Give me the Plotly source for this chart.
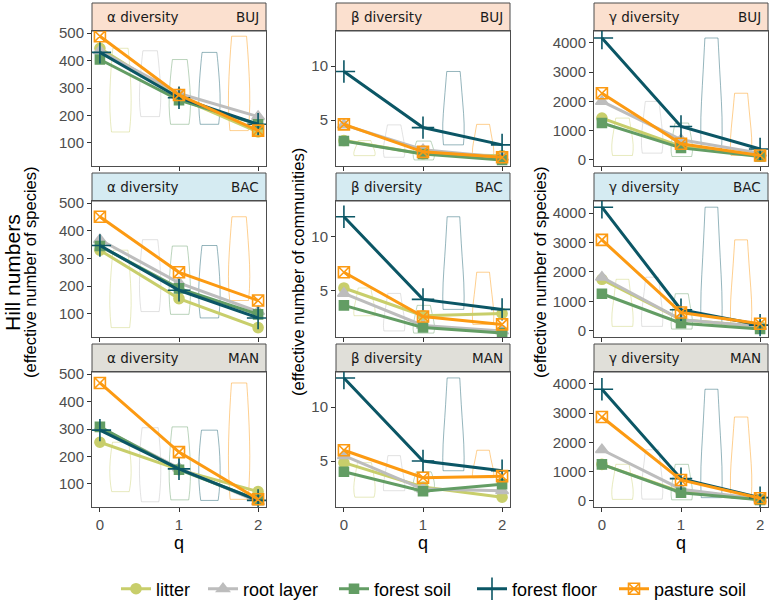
import plotly.graph_objects as go

# ---------------- data ----------------
q = [0, 1, 2]
habitats = ["litter", "root layer", "forest soil", "forest floor", "pasture soil"]
sites = ["BUJ", "BAC", "MAN"]
metrics = ["α diversity", "β diversity", "γ diversity"]

# rows: litter, root layer, forest soil, forest floor, pasture soil ; values at q = 0, 1, 2
alpha_BUJ = [[445, 265, 140], [436, 280, 196], [404, 256, 168], [430, 265, 168], [489, 275, 145]]
alpha_BAC = [[330, 155, 50], [368, 212, 108], [345, 192, 98], [347, 185, 85], [451, 250, 148]]
alpha_MAN = [[252, 152, 72], [305, 158, 35], [308, 152, 42], [296, 155, 40], [468, 216, 44]]

beta_BUJ = [[3.1, 1.85, 1.7], [4.55, 2.25, 1.55], [3.05, 1.85, 1.3], [9.5, 4.3, 2.7], [4.6, 2.05, 1.55]]
beta_BAC = [[5.25, 2.7, 2.9], [4.75, 1.8, 1.3], [3.65, 1.62, 1.1], [11.8, 4.2, 3.28], [6.7, 2.63, 1.9]]
beta_MAN = [[4.85, 2.6, 1.65], [5.5, 2.4, 2.25], [4.0, 2.2, 2.85], [12.7, 5.0, 4.1], [6.0, 3.45, 3.6]]

gamma_BUJ = [[1430, 460, 150], [2000, 690, 230], [1260, 410, 115], [4170, 1140, 370], [2280, 550, 150]]
gamma_BAC = [[1750, 380, 150], [1820, 380, 150], [1260, 260, 60], [4200, 715, 195], [3090, 620, 240]]
gamma_MAN = [[1250, 310, 50], [1750, 400, 60], [1250, 280, 35], [3820, 760, 110], [2870, 715, 90]]

violin_pos = [0.26, 0.635, 1.01, 1.385, 1.76]

alpha_ticks = [100, 200, 300, 400, 500]
beta_ticks = [5, 10]
gamma_ticks = [0, 1000, 2000, 3000, 4000]

# ---------------- styling ----------------
colors = ["#C8CE6B", "#BDBDBD", "#639D64", "#0B5665", "#FC9A12"]
vcolors = ["rgba(200,206,107,0.55)", "rgba(189,189,189,0.55)", "rgba(99,157,100,0.55)",
           "rgba(11,86,101,0.55)", "rgba(252,154,18,0.6)"]
symbols = ["circle", "triangle-up", "square", "cross-thin-open", "square-x-open"]
msizes = [10, 11, 9, 16, 11]
strip_fill = {"BUJ": "#FBE0CF", "BAC": "#D5EBF2", "MAN": "#E0DFD9"}

W, H = 770, 601
col_x = [(92, 266), (336, 510), (594, 768)]
row_y = [(31, 166), (201, 337), (372, 507)]
strip_y = [(3, 31), (173, 201), (344, 372)]
legend_x = [116, 203, 334, 472, 614]

data = {
    (0, 0): alpha_BUJ, (1, 0): alpha_BAC, (2, 0): alpha_MAN,
    (0, 1): beta_BUJ, (1, 1): beta_BAC, (2, 1): beta_MAN,
    (0, 2): gamma_BUJ, (1, 2): gamma_BAC, (2, 2): gamma_MAN,
}
yranges = [[16, 508], [0.74, 13.25], [-210, 4410]]
yticks = [alpha_ticks, beta_ticks, gamma_ticks]

fig = go.Figure()
layout = {}
shapes = []
annotations = []
font_main = "Liberation Sans, Arial, sans-serif"
font_strip = "DejaVu Sans, sans-serif"
legend_names = ["legend", "legend2", "legend3", "legend4", "legend5"]

for r in range(3):
    for c in range(3):
        k = r * 3 + c + 1
        xa = "x" if k == 1 else f"x{k}"
        ya = "y" if k == 1 else f"y{k}"
        vals = data[(r, c)]
        # violins
        for h in range(5):
            fig.add_trace(go.Violin(
                x=[violin_pos[h]] * 3, y=vals[h], xaxis=xa, yaxis=ya,
                width=0.27, spanmode="hard", points=False,
                line=dict(color=vcolors[h], width=0.8),
                fillcolor="rgba(255,255,255,0)", showlegend=False,
                hoverinfo="skip", box_visible=False, meanline_visible=False,
            ))
        # lines
        for h in range(5):
            fig.add_trace(go.Scatter(
                x=q, y=vals[h], xaxis=xa, yaxis=ya, mode="lines+markers",
                name=habitats[h], legendgroup=habitats[h], showlegend=(k == 1),
                legend=legend_names[h],
                line=dict(color=colors[h], width=3),
                marker=dict(symbol=symbols[h], size=msizes[h], color=colors[h],
                            line=dict(color=colors[h], width=1.6)),
            ))
        x0, x1 = col_x[c]
        y0, y1 = row_y[r]
        axis_common = dict(showgrid=False, zeroline=False, showline=True, mirror=True,
                           linecolor="#4D4D4D", linewidth=1, ticks="outside", ticklen=4,
                           tickcolor="#333333", tickwidth=1,
                           tickfont=dict(family=font_main, size=15, color="#4D4D4D"))
        layout["xaxis" if k == 1 else f"xaxis{k}"] = dict(
            domain=[x0 / W, x1 / W], anchor=ya, range=[-0.1, 2.1],
            tickvals=q, showticklabels=(r == 2), **axis_common)
        layout["yaxis" if k == 1 else f"yaxis{k}"] = dict(
            domain=[1 - y1 / H, 1 - y0 / H], anchor=xa, range=yranges[c],
            tickvals=yticks[c], **axis_common)
        # strip
        sy0, sy1 = strip_y[r]
        shapes.append(dict(type="rect", xref="paper", yref="paper",
                           x0=x0 / W, x1=x1 / W, y0=1 - sy1 / H, y1=1 - sy0 / H,
                           fillcolor=strip_fill[sites[r]], line=dict(color="#4D4D4D", width=1),
                           layer="below"))
        annotations.append(dict(text=metrics[c], xref="paper", yref="paper",
                                x=(x0 + 13) / W, y=1 - (sy0 + sy1) / 2 / H,
                                xanchor="left", yanchor="middle", showarrow=False,
                                font=dict(family=font_strip, size=13.5, color="#1A1A1A")))
        annotations.append(dict(text=sites[r], xref="paper", yref="paper",
                                x=(x1 - 5) / W, y=1 - (sy0 + sy1) / 2 / H,
                                xanchor="right", yanchor="middle", showarrow=False,
                                font=dict(family=font_strip, size=13.5, color="#1A1A1A")))

# axis titles
for c in range(3):
    x0, x1 = col_x[c]
    annotations.append(dict(text="q", xref="paper", yref="paper", x=(x0 + x1) / 2 / W,
                            y=1 - 543 / H, xanchor="center", yanchor="middle", showarrow=False,
                            font=dict(family=font_main, size=18, color="#000000")))
annotations.append(dict(text="Hill numbers", xref="paper", yref="paper", x=12 / W, y=1 - 273 / H,
                        textangle=-90, xanchor="center", yanchor="middle", showarrow=False,
                        font=dict(family=font_main, size=21, color="#000000")))
for xc, txt in [(30, "(effective number of species)"), (298, "(effective number of communities)"),
                (540, "(effective number of species)")]:
    annotations.append(dict(text=txt, xref="paper", yref="paper", x=xc / W, y=1 - 272 / H,
                            textangle=-90, xanchor="center", yanchor="middle", showarrow=False,
                            font=dict(family=font_main, size=16.5, color="#000000")))

for i, ln in enumerate(legend_names):
    layout[ln] = dict(orientation="h", x=legend_x[i] / W, xanchor="left",
                      y=1 - 589 / H, yanchor="middle", itemwidth=30,
                      font=dict(family=font_main, size=18, color="#000000"),
                      bgcolor="rgba(0,0,0,0)")

fig.update_layout(
    width=W, height=H, autosize=False,
    margin=dict(l=0, r=0, t=0, b=0, autoexpand=False),
    paper_bgcolor="white", plot_bgcolor="white",
    violinmode="overlay",
    shapes=shapes, annotations=annotations,
    **layout,
)
fig.write_html("out.html", config={"displayModeBar": False},
               post_script="document.body.style.margin='0px';document.body.style.padding='0px';")
